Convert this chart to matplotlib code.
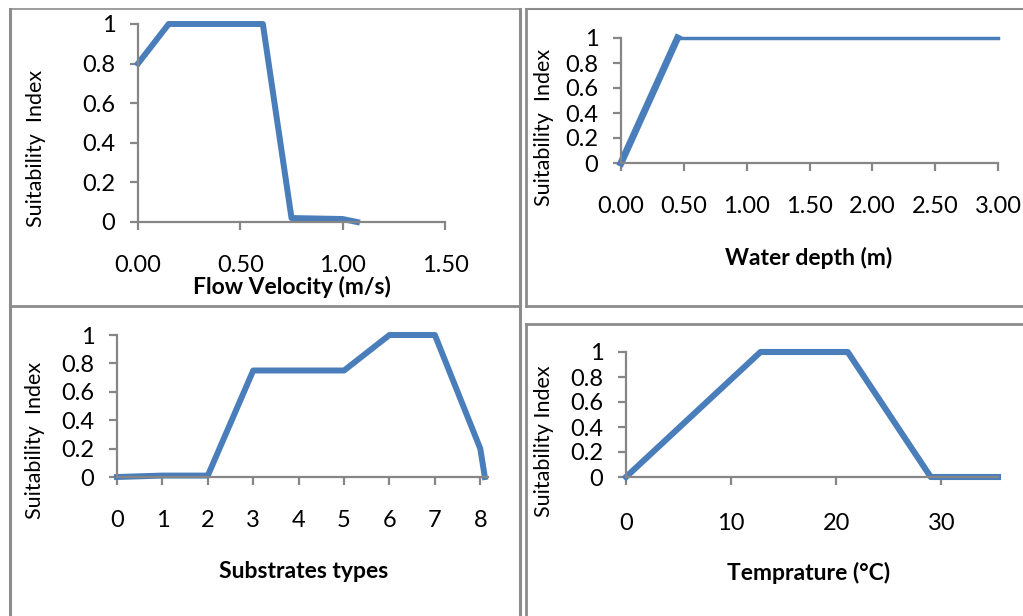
import matplotlib
matplotlib.use("Agg")
import matplotlib.pyplot as plt
from matplotlib.lines import Line2D

W, H = 1023, 616
plt.rcParams['font.family'] = ['Lato', 'DejaVu Sans']

# ---- data ----
vel_x = [0.0, 0.15, 0.61, 0.75, 1.0, 1.07]
vel_si = [0.8, 1.0, 1.0, 0.02, 0.015, 0.0]
vel_ticks = [0.0, 0.5, 1.0, 1.5]
vel_labels = ['0.00', '0.50', '1.00', '1.50']

depth_x = [0.0, 0.45, 3.0]
depth_si = [0.0, 1.0, 1.0]
depth_ticks = [0.0, 0.5, 1.0, 1.5, 2.0, 2.5, 3.0]
depth_labels = ['0.00', '0.50', '1.00', '1.50', '2.00', '2.50', '3.00']

sub_x = [0, 1, 2, 3, 5, 6, 7, 8, 8.1]
sub_si = [0.0, 0.01, 0.01, 0.75, 0.75, 1.0, 1.0, 0.2, 0.0]
sub_ticks = [0, 1, 2, 3, 4, 5, 6, 7, 8]
sub_labels = ['0', '1', '2', '3', '4', '5', '6', '7', '8']

temp_x = [0, 12.8, 21.1, 29, 35.4]
temp_si = [0.0, 1.0, 1.0, 0.0, 0.0]
temp_ticks = [0, 10, 20, 30]
temp_labels = ['0', '10', '20', '30']

y_ticks = [0, 0.2, 0.4, 0.6, 0.8, 1.0]
y_labels = ['0', '0.2', '0.4', '0.6', '0.8', '1']

LINE = '#4A7EBB'
GRAY = '#868686'
BORDER = '#8C8C8C'

fig = plt.figure(figsize=(W / 100, H / 100), dpi=100)


def add_ax(x0, x1, ytop, ybot):
    return fig.add_axes([x0 / W, 1 - ybot / H, (x1 - x0) / W, (ybot - ytop) / H])


def style(ax, xlim, xticks, xlabels, xpad=18):
    ax.set_xlim(*xlim)
    ax.set_ylim(0, 1)
    ax.set_xticks(xticks)
    ax.set_xticklabels(xlabels)
    ax.set_yticks(y_ticks)
    ax.set_yticklabels(y_labels)
    for s in ['top', 'right']:
        ax.spines[s].set_visible(False)
    for s in ['left', 'bottom']:
        ax.spines[s].set_color(GRAY)
        ax.spines[s].set_linewidth(1.6)
    ax.tick_params(axis='both', direction='out', length=5.8, width=1.6,
                   color=GRAY, labelsize=17, labelcolor='black')
    ax.tick_params(axis='x', pad=xpad)
    ax.tick_params(axis='y', pad=10.5)
    ax.patch.set_alpha(0)


def ftext(px, py, s, **kw):
    fig.text(px / W, 1 - py / H, s, ha='center', va='center', **kw)


XL = 16.5
YL = 15.5

# Panel 1
ax1 = add_ax(138, 445, 24, 222)
ax1.plot(vel_x, vel_si, color=LINE, lw=4.3, clip_on=False)
style(ax1, (0, 1.5), vel_ticks, vel_labels)
ftext(292, 287, 'Flow Velocity (m/s)', fontsize=XL, fontweight='bold')
ftext(36, 148, 'Suitability  Index', fontsize=YL, rotation=90)

# Panel 2
ax2 = add_ax(621, 998, 38, 163)
ax2.plot(depth_x[:2], depth_si[:2], color=LINE, lw=5.0, clip_on=False)
ax2.plot(depth_x[1:], depth_si[1:], color=LINE, lw=2.5, clip_on=False)
style(ax2, (0, 3.0), depth_ticks, depth_labels)
ftext(809, 258, 'Water depth (m)', fontsize=XL, fontweight='bold')
ftext(544, 127, 'Suitability  Index', fontsize=YL, rotation=90)

# Panel 3
ax3 = add_ax(117, 488, 335, 477)
ax3.plot(sub_x, sub_si, color=LINE, lw=4.3, clip_on=False)
style(ax3, (0, 8.17), sub_ticks, sub_labels)
ftext(304, 572, 'Substrates types', fontsize=XL, fontweight='bold')
ftext(35, 440, 'Suitability  Index', fontsize=YL, rotation=90)

# Panel 4
ax4 = add_ax(626, 998, 352, 477)
ax4.plot(temp_x, temp_si, color=LINE, lw=4.4, clip_on=False)
style(ax4, (0, 35.4), temp_ticks, temp_labels, xpad=20)
ftext(809, 573, 'Temprature (°C)', fontsize=XL, fontweight='bold')
ftext(544, 441, 'Suitability Index', fontsize=YL, rotation=90)


# Panel borders (Excel chart-area frames)
def seg(xa, ya, xb, yb, lw=1.8):
    fig.add_artist(Line2D([xa / W, xb / W], [1 - ya / H, 1 - yb / H],
                          color=BORDER, lw=lw, transform=fig.transFigure))


# panel 1
seg(9.5, 8.5, 519.5, 8.5, 1.2)
seg(9.5, 8.5, 9.5, 305.5, 2.2)
seg(519.5, 8.5, 519.5, 305.5, 2.2)
seg(9.5, 305.5, 519.5, 305.5, 2.0)
# panel 2
seg(525.5, 8.5, 1030, 8.5, 1.5)
seg(525.5, 8.5, 525.5, 305.5, 2.0)
seg(525.5, 305.5, 1030, 305.5, 2.0)
# panel 3
seg(9.5, 305.5, 9.5, 630, 2.2)
seg(519.5, 305.5, 519.5, 630, 2.2)
# panel 4
seg(525.5, 323.5, 1030, 323.5, 2.0)
seg(525.5, 323.5, 525.5, 630, 2.0)

fig.savefig('out.png', dpi=100)
